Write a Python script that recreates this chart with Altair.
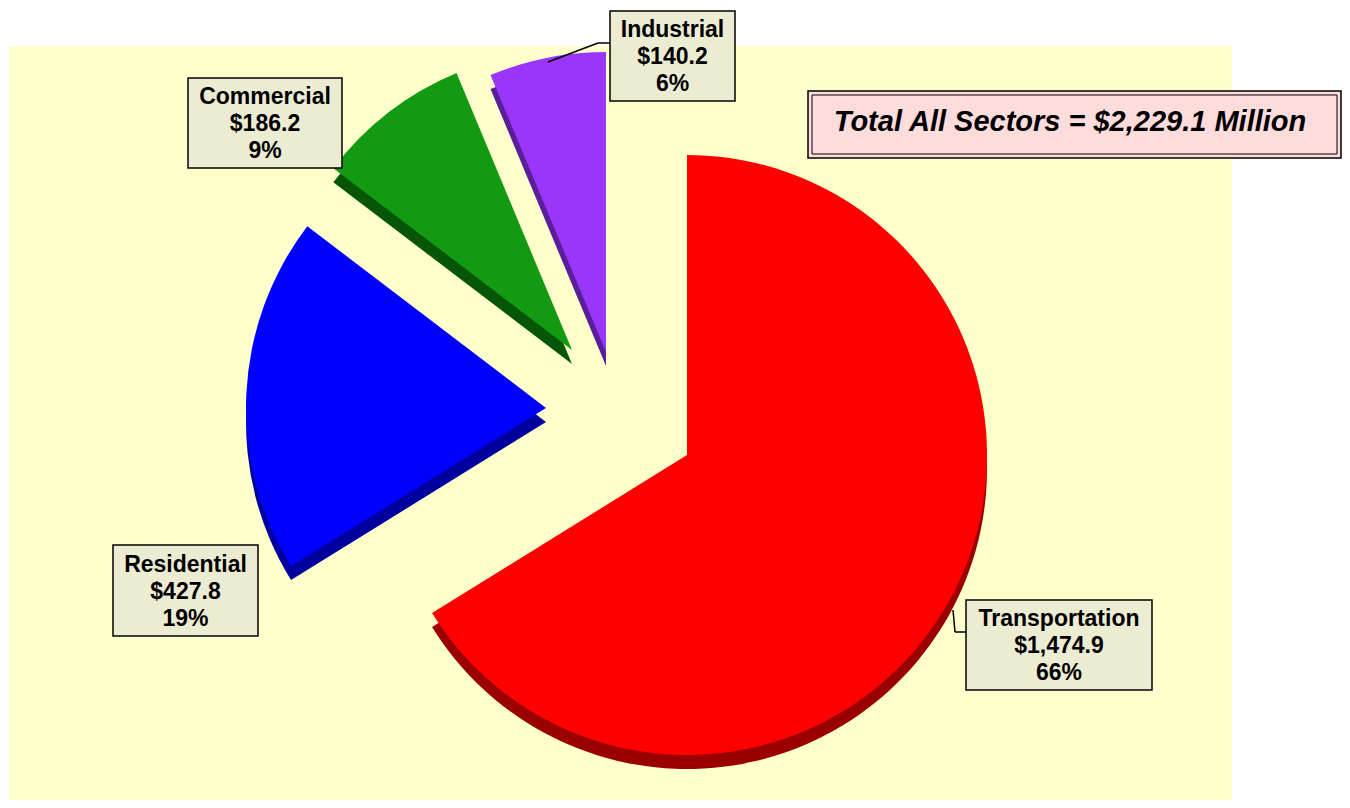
import math
import altair as alt
import pandas as pd

# ---- data ----
sectors = ["Transportation", "Residential", "Commercial", "Industrial"]
values = [1474.9, 427.8, 186.2, 140.2]
pct_labels = ["66%", "19%", "9%", "6%"]
total_title = "Total All Sectors"

# ---- styling ----
top_colors = ["#FF0000", "#0000FF", "#129A12", "#9A35FA"]
side_colors = ["#9A0000", "#00009E", "#075507", "#5A1E9A"]
OFF = 8  # page margin
# slice apex (page px) for the exploded layout
apex = [(687, 455), (546, 408), (572, 350), (606, 352)]
R = 300
DEPTH = 14
# label boxes (page px): x1, y1, x2, y2
boxes = [(966, 600, 1152, 690), (113, 545, 258, 636), (188, 78, 342, 168), (610, 11, 735, 101)]
FONT = "Liberation Sans"
LH = 27

total = sum(values)
df = pd.DataFrame({"sector": sectors, "value": values, "pct": pct_labels})
df["end"] = df["value"].cumsum()
df["start"] = df["end"] - df["value"]
df["label"] = [f"{s}\n${v:,.1f}\n{p}" for s, v, p in zip(sectors, values, pct_labels)]

theta_scale = alt.Scale(domain=[0, total], range=[0, 2 * math.pi])

W, H = 1334, 792

def P(v):
    return alt.value(v - OFF)

bg = alt.Chart(pd.DataFrame({"a": [0]})).mark_rect(fill="#FFFFCC").encode(
    x=P(9), x2=P(1232), y=P(46), y2=alt.value(H)
)

layers = [bg]
for i, s in enumerate(sectors):
    cx, cy = apex[i]
    base = alt.Chart(df).transform_filter(alt.datum.sector == s)
    enc = dict(
        theta=alt.Theta("start:Q", scale=theta_scale, stack=None),
        theta2="end:Q",
    )
    side = base.mark_arc(outerRadius=R, color=side_colors[i]).encode(
        x=P(cx), y=P(cy + DEPTH), **enc
    )
    top = base.mark_arc(outerRadius=R, color=top_colors[i]).encode(
        x=P(cx), y=P(cy), **enc
    )
    layers += [side, top]

# leader lines
lines = [
    ((610, 43), (598, 43)),
    ((598, 43), (548, 62)),
    ((966, 632), (955, 632)),
    ((955, 632), (953, 610)),
]
for (x1, y1), (x2, y2) in lines:
    layers.append(
        alt.Chart(pd.DataFrame({"a": [0]})).mark_rule(color="black", strokeWidth=1.5).encode(
            x=P(x1), y=P(y1), x2=P(x2), y2=P(y2)
        )
    )

for i, s in enumerate(sectors):
    x1, y1, x2, y2 = boxes[i]
    base = alt.Chart(df).transform_filter(alt.datum.sector == s)
    rect = base.mark_rect(fill="#ECECD2", stroke="black", strokeWidth=1.5).encode(
        x=P(x1), x2=P(x2), y=P(y1), y2=P(y2)
    )
    txt = base.mark_text(
        font=FONT, fontSize=23, fontWeight="bold", color="black",
        lineBreak="\n", lineHeight=LH, align="center", baseline="middle",
    ).encode(text="label:N", x=P((x1 + x2) / 2), y=P((y1 + y2) / 2 - LH + 1))
    layers += [rect, txt]

# total box
tdf = pd.DataFrame({"t": [f"{total_title} = ${total:,.1f} Million"]})
outer = alt.Chart(tdf).mark_rect(fill="#FFDCDC", stroke="black", strokeWidth=1.5).encode(
    x=P(808), x2=P(1341), y=P(91), y2=P(158)
)
inner = alt.Chart(tdf).mark_rect(fill="#FFDCDC", stroke="black", strokeWidth=1).encode(
    x=P(812), x2=P(1337), y=P(95), y2=P(154)
)
ttxt = alt.Chart(tdf).mark_text(
    font=FONT, fontSize=29, fontWeight="bold", fontStyle="italic", color="black",
    align="center", baseline="middle",
).encode(text="t:N", x=P(1070), y=P(122))
layers += [outer, inner, ttxt]

chart = alt.layer(*layers).properties(
    width=W, height=H, padding=0, autosize=alt.AutoSizeParams(type="none"), background="white"
).configure_view(stroke=None)

chart.save("out.html", embed_options={"renderer": "svg", "actions": False})
